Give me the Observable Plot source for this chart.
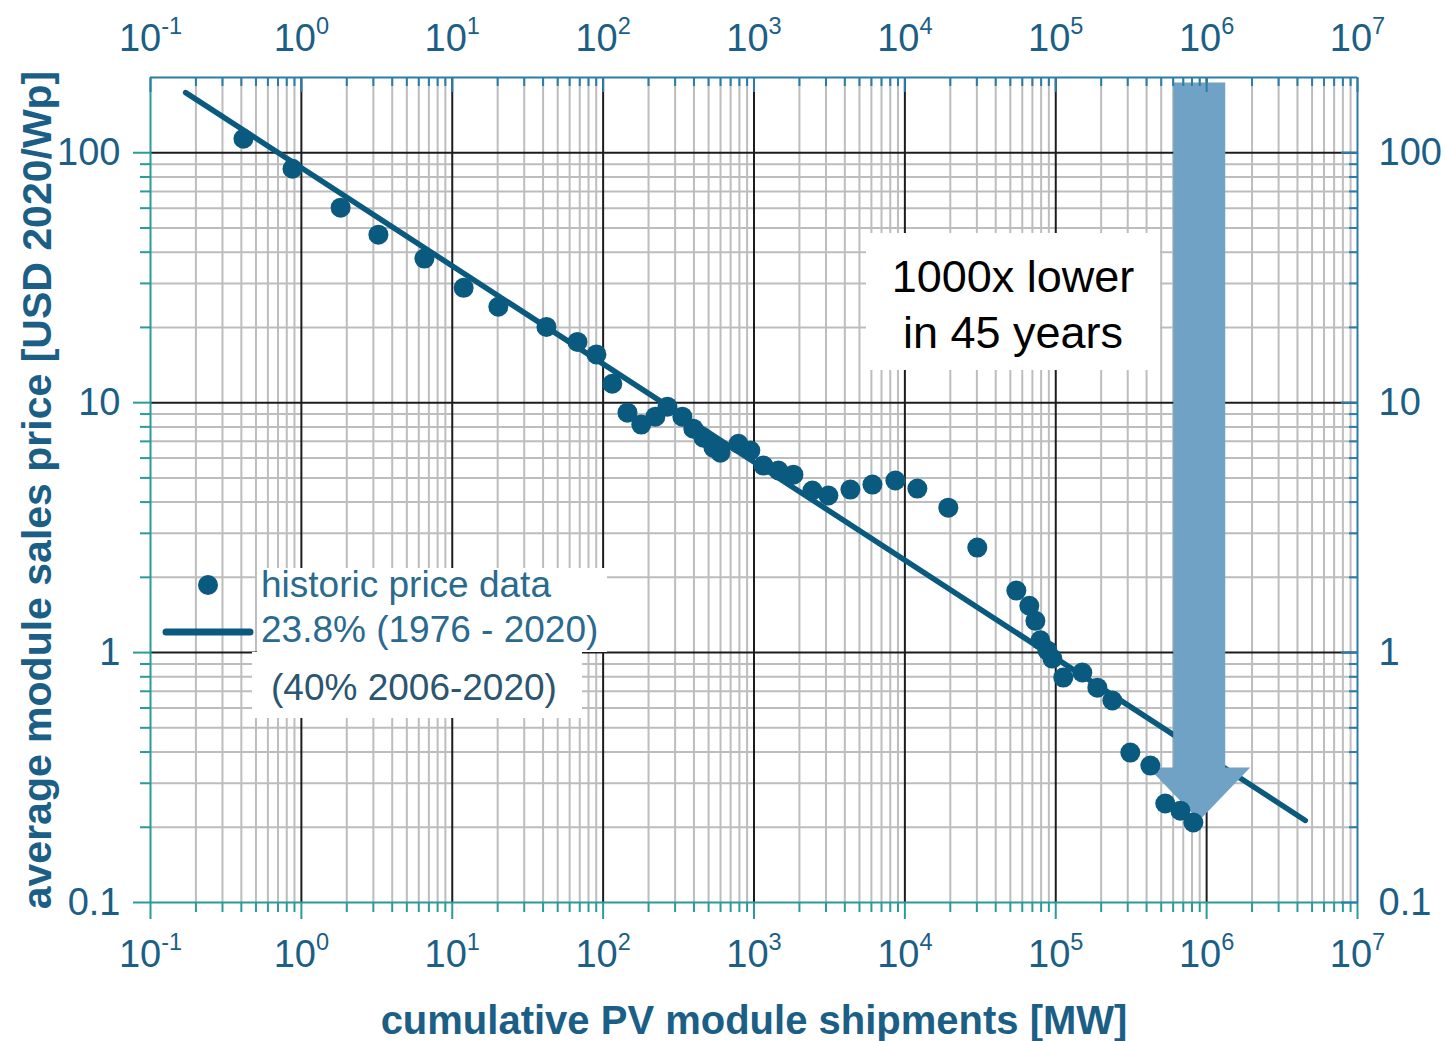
<!DOCTYPE html>
<html>
<head>
<meta charset="utf-8">
<script src="https://cdn.jsdelivr.net/npm/d3@7"></script>
<script src="https://cdn.jsdelivr.net/npm/@observablehq/plot@0.6"></script>
<style>
  html, body { margin: 0; padding: 0; background: #fff; }
  #chart svg { display: block; }
</style>
</head>
<body>
<div id="chart"></div>
<script>
// ---------- data ----------
const shipmentsMW = [0.413, 0.873, 1.82, 3.24, 6.54, 11.9, 20.2, 42.1, 67.6, 90.3,
  115, 145, 179, 222, 267, 335, 396, 462, 538, 599,
  789, 946, 1154, 1452, 1825, 2438, 3112, 4355, 6095, 8650,
  12100, 19400, 30200, 54800, 66800, 73300, 79100, 88000, 94900, 112200,
  150000, 188700, 237300, 312000, 423600, 532000, 669900, 816600];
const pricesUSD = [113.8, 86.3, 60.3, 47.0, 37.7, 28.8, 24.2, 20.1, 17.5, 15.6,
  11.9, 9.12, 8.17, 8.79, 9.64, 8.79, 7.87, 7.24, 6.61, 6.31,
  6.85, 6.43, 5.60, 5.35, 5.15, 4.45, 4.25, 4.49, 4.70, 4.88,
  4.53, 3.80, 2.63, 1.77, 1.54, 1.34, 1.12, 1.02, 0.946, 0.794,
  0.832, 0.724, 0.643, 0.398, 0.353, 0.249, 0.233, 0.209];

// experience curve fit (23.8 % learning rate) end points
const fitShipmentsMW = [0.171, 4.51e6];
const fitPricesUSD = [174, 0.213];

// "1000x lower" arrow: shipment position, price at top / head base / tip
const arrowShipmentMW = [9.0e5];
const arrowPricesUSD = [190, 0.345, 0.212];

// axes
const xDomain = [0.1, 1e7];
const yDomain = [0.1, 200];
const xExponents = [-1, 0, 1, 2, 3, 4, 5, 6, 7];
const yTickValues = [0.1, 1, 10, 100];
const yDecades = [-1, 0, 1, 2];
const minorMultipliers = [2, 3, 4, 5, 6, 7, 8, 9];

// texts
const xTitle = "cumulative PV module shipments [MW]";
const yTitle = "average module sales price [USD 2020/Wp]";
const legendLabels = ["historic price data", "23.8% (1976 - 2020)", "(40% 2006-2020)"];
const annotationLines = ["1000x lower", "in 45 years"];

// ---------- styling ----------
const FONT = "'Liberation Sans', Arial, Helvetica, sans-serif";
const C_LABEL = "#1b5e86";
const C_TEAL = "#2a9a9a";
const C_BLUE = "#2b7ca8";
const C_DOT = "#0a5a80";
const C_ARROW = "#6fa2c4";
const C_GRID = "#bdbdbd";
const C_MAJOR = "#1c1c1c";

// ---------- derived ----------
const points = shipmentsMW.map((x, i) => ({x, y: pricesUSD[i]}));
const fit = fitShipmentsMW.map((x, i) => ({x, y: fitPricesUSD[i]}));
const majorX = xExponents.map(e => 10 ** e);
const minorX = xExponents.slice(0, -1).flatMap(e => minorMultipliers.map(k => k * 10 ** e));
const minorY = yDecades.flatMap(e => minorMultipliers.map(k => k * 10 ** e)).filter(v => v < yDomain[1]);
const expFmt = d => "10^" + Math.round(Math.log10(d));
const blank = () => "";

// arrow as a custom mark positioned through Plot's scales
function arrowMark(index, scales) {
  const x = scales.x(arrowShipmentMW[0]);
  const [yTop, yBase, yTip] = arrowPricesUSD.map(v => scales.y(v));
  const sw = 26, hw = 51;
  const d = `M${x - sw},${yTop}L${x + sw},${yTop}L${x + sw},${yBase}L${x + hw},${yBase}L${x},${yTip}L${x - hw},${yBase}L${x - sw},${yBase}Z`;
  return d3.create("svg:path").attr("d", d).attr("fill", C_ARROW).node();
}

// legend + annotation box (layout inside the frame)
function overlayMark(index, scales, values, dims) {
  const L = dims.marginLeft, T = dims.marginTop;
  const g = d3.create("svg:g").attr("font-family", FONT).attr("text-anchor", "start");
  // legend backgrounds
  g.append("rect").attr("x", L + 107).attr("y", T + 491).attr("width", 350).attr("height", 84).attr("fill", "#fff");
  g.append("rect").attr("x", L + 102).attr("y", T + 575).attr("width", 330).attr("height", 66).attr("fill", "#fff");
  // legend symbols
  g.append("circle").attr("cx", L + 58).attr("cy", T + 508).attr("r", 10).attr("fill", C_DOT);
  g.append("line").attr("x1", L + 16).attr("x2", L + 100).attr("y1", T + 555).attr("y2", T + 555)
    .attr("stroke", C_DOT).attr("stroke-width", 7).attr("stroke-linecap", "round");
  // legend texts
  g.append("text").attr("x", L + 111).attr("y", T + 520).attr("font-size", 37).attr("fill", "#2b6a8f").text(legendLabels[0]);
  g.append("text").attr("x", L + 111).attr("y", T + 565).attr("font-size", 37).attr("fill", "#2b6a8f").text(legendLabels[1]);
  g.append("text").attr("x", L + 121).attr("y", T + 623).attr("font-size", 37).attr("fill", "#2b5570").text(legendLabels[2]);
  // annotation box
  g.append("rect").attr("x", L + 716).attr("y", T + 156).attr("width", 294).attr("height", 137).attr("fill", "#fff");
  annotationLines.forEach((t, i) => {
    g.append("text").attr("x", L + 863).attr("y", T + 215 + i * 56).attr("text-anchor", "middle")
      .attr("font-size", 45).attr("fill", "#000").text(t);
  });
  return g.node();
}

const axisFont = {fontSize: 38, fontFamily: FONT};

const chart = Plot.plot({
  width: 1445,
  height: 1041,
  marginLeft: 150,
  marginRight: 88,
  marginTop: 77,
  marginBottom: 139,
  style: {fontFamily: FONT, background: "#fff"},
  x: {type: "log", domain: xDomain},
  y: {type: "log", domain: yDomain},
  marks: [
    // grid
    Plot.ruleX(minorX, {stroke: C_GRID, strokeWidth: 2}),
    Plot.ruleY(minorY, {stroke: C_GRID, strokeWidth: 2}),
    Plot.ruleX(majorX.slice(1, -1), {stroke: C_MAJOR, strokeWidth: 2}),
    Plot.ruleY(yTickValues.slice(1), {stroke: C_MAJOR, strokeWidth: 2}),
    overlayMark,
    // fit line
    Plot.line(fit, {x: "x", y: "y", stroke: C_DOT, strokeWidth: 5.5}),
    arrowMark,
    // data
    Plot.dot(points, {x: "x", y: "y", r: 10, fill: C_DOT}),
    // frame lines
    Plot.ruleY([yDomain[0]], {stroke: C_TEAL, strokeWidth: 2}),
    Plot.ruleX([xDomain[0]], {stroke: C_TEAL, strokeWidth: 2}),
    Plot.ruleY([yDomain[1]], {stroke: C_BLUE, strokeWidth: 2}),
    Plot.ruleX([xDomain[1]], {stroke: C_BLUE, strokeWidth: 2}),
    // bottom axis
    Plot.axisX({anchor: "bottom", ticks: minorX, tickSize: 10, tickFormat: blank, stroke: C_TEAL, strokeWidth: 2, label: null}),
    Plot.axisX({anchor: "bottom", ticks: majorX, tickSize: 17, tickFormat: blank, stroke: C_TEAL, strokeWidth: 2, label: null}),
    Plot.axisX({anchor: "bottom", ticks: majorX, tickSize: 0, tickPadding: 38, tickFormat: expFmt, fill: C_LABEL, label: null, ...axisFont}),
    // top axis (ticks inward)
    Plot.axisX({anchor: "top", ticks: minorX, tickSize: 8, dy: 8, tickFormat: blank, stroke: C_BLUE, strokeWidth: 2, label: null}),
    Plot.axisX({anchor: "top", ticks: majorX, tickSize: 14, dy: 14, tickFormat: blank, stroke: C_BLUE, strokeWidth: 2, label: null}),
    Plot.axisX({anchor: "top", ticks: majorX, tickSize: 0, tickPadding: 27, tickFormat: expFmt, fill: C_LABEL, label: null, ...axisFont}),
    // left axis
    Plot.axisY({anchor: "left", ticks: minorY, tickSize: 10, tickFormat: blank, stroke: C_TEAL, strokeWidth: 2, label: null}),
    Plot.axisY({anchor: "left", ticks: yTickValues, tickSize: 17, tickFormat: blank, stroke: C_TEAL, strokeWidth: 2, label: null}),
    Plot.axisY({anchor: "left", ticks: yTickValues, tickSize: 0, tickPadding: 30, tickFormat: d => String(d), fill: C_LABEL, label: null, ...axisFont}),
    // right axis (ticks inward)
    Plot.axisY({anchor: "right", ticks: minorY, tickSize: 9, dx: -9, tickFormat: blank, stroke: C_BLUE, strokeWidth: 2, label: null}),
    Plot.axisY({anchor: "right", ticks: yTickValues, tickSize: 17, dx: -17, tickFormat: blank, stroke: C_BLUE, strokeWidth: 2, label: null}),
    Plot.axisY({anchor: "right", ticks: yTickValues, tickSize: 0, tickPadding: 21, tickFormat: d => String(d), fill: C_LABEL, label: null, ...axisFont}),
    // axis titles
    Plot.text([xTitle], {text: d => d, frameAnchor: "bottom", dy: 131, fontSize: 40, fontWeight: "bold", fill: C_LABEL}),
    Plot.text([yTitle], {text: d => d, frameAnchor: "left", dx: -113, rotate: -90, textAnchor: "middle", fontSize: 41, fontWeight: "bold", fill: C_LABEL})
  ]
});

// render 10^n as real superscripts
d3.select(chart).selectAll("text").each(function () {
  const t = this.textContent;
  if (!t.startsWith("10^")) return;
  const exp = t.slice(3);
  const sel = d3.select(this);
  sel.text(null);
  sel.append("tspan").text("10");
  sel.append("tspan").attr("dy", -17).attr("font-size", "0.62em").text(exp);
});

document.getElementById("chart").appendChild(chart);
</script>
</body>
</html>
